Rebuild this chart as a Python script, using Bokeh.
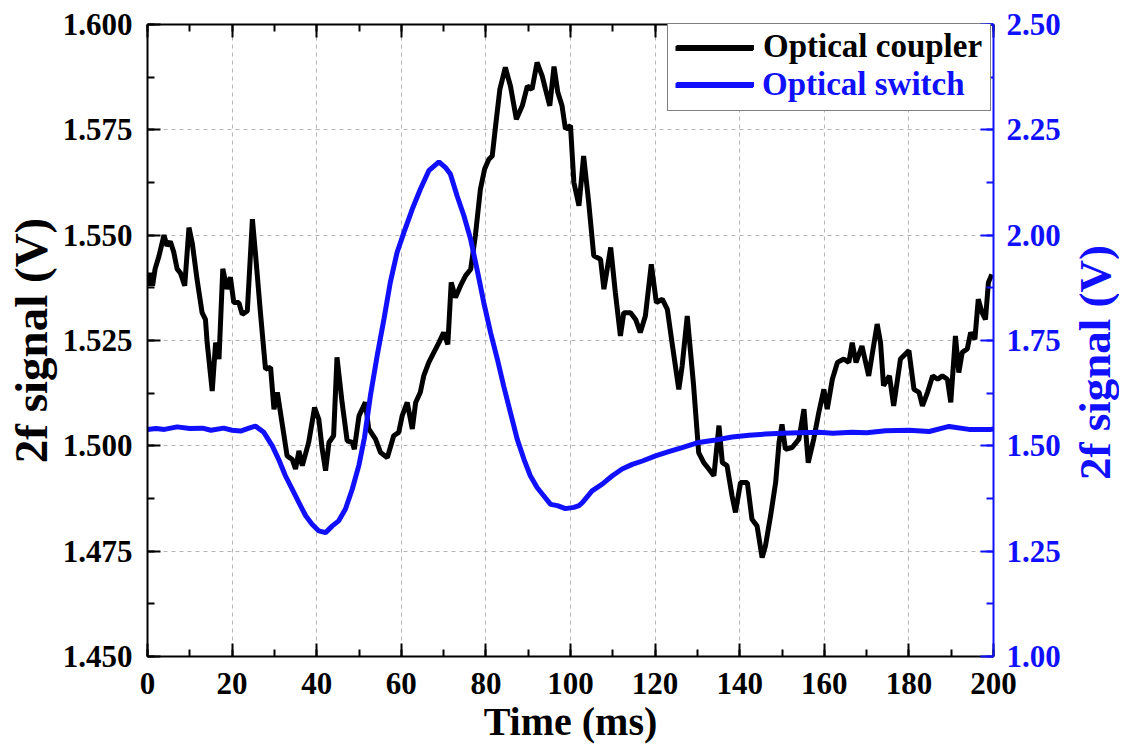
import math
from bokeh.plotting import figure
from bokeh.models import (Range1d, LinearAxis, SingleIntervalTicker, PrintfTickFormatter,
                          Legend, LegendItem, CustomLabelingPolicy, Label)
from bokeh.embed import file_html
from bokeh.resources import INLINE

# ---- data ----
coupler_t = [0.0, 0.6, 1.2, 1.8, 2.7, 3.9, 4.6, 5.4, 6.2, 7.0, 7.8, 8.8, 9.8, 10.6, 11.7, 12.9, 13.7,
             14.1, 15.3, 16.1, 16.9, 17.8, 18.8, 19.6, 20.4, 21.6, 22.4, 23.6, 24.8, 25.5, 26.7, 27.9,
             29.1, 29.9, 30.7, 31.8, 33.0, 34.2, 35.0, 35.8, 36.6, 38.1, 39.5, 40.5, 41.3, 42.1, 42.9,
             44.0, 44.8, 46.0, 47.2, 48.4, 48.9, 50.0, 51.5, 52.3, 53.9, 55.1, 56.7, 58.2, 59.4, 60.2,
             61.4, 62.6, 63.4, 64.5, 65.3, 66.5, 67.7, 68.9, 70.0, 71.0, 71.8, 72.8, 74.0, 75.2, 76.4,
             77.5, 78.7, 79.7, 80.7, 81.5, 82.3, 83.3, 84.6, 85.8, 87.2, 88.6, 89.8, 90.9, 92.1, 93.3,
             94.1, 95.1, 96.1, 97.0, 98.0, 98.8, 100.0, 100.8, 102.0, 103.1, 104.3, 105.5, 107.1, 107.9,
             109.5, 110.6, 111.8, 112.6, 114.2, 115.4, 116.5, 117.7, 119.1, 120.3, 121.7, 122.9, 124.0,
             125.6, 126.4, 127.6, 129.1, 130.3, 131.5, 132.7, 133.9, 135.1, 135.9, 137.0, 138.2, 139.0,
             140.2, 141.8, 142.9, 144.1, 145.3, 146.1, 147.3, 148.5, 149.3, 150.0, 150.8, 152.4, 154.0,
             155.2, 156.2, 157.5, 158.7, 159.9, 160.7, 161.9, 163.1, 164.6, 165.8, 166.6, 167.5, 168.9,
             170.5, 171.4, 172.5, 173.3, 174.0, 175.4, 176.4, 178.0, 180.0, 181.2, 182.4, 183.2, 184.4,
             185.6, 186.8, 187.9, 189.1, 189.9, 191.0, 191.8, 192.6, 193.8, 194.6, 195.6, 196.4, 197.3,
             198.1, 198.8, 199.6]
coupler_v = [1.5380, 1.5410, 1.5380, 1.5420, 1.5450, 1.5500, 1.5475, 1.5485, 1.5460, 1.5420, 1.5410,
             1.5380, 1.5518, 1.5480, 1.5396, 1.5316, 1.5300, 1.5245, 1.5130, 1.5245, 1.5206, 1.5420,
             1.5372, 1.5400, 1.5340, 1.5340, 1.5312, 1.5320, 1.5538, 1.5459, 1.5316, 1.5182, 1.5186,
             1.5087, 1.5127, 1.5055, 1.4976, 1.4968, 1.4945, 1.4988, 1.4953, 1.5008, 1.5091, 1.5063,
             1.4992, 1.4941, 1.5008, 1.5024, 1.5210, 1.5103, 1.5012, 1.5008, 1.4992, 1.5071, 1.5103,
             1.5040, 1.5016, 1.4984, 1.4972, 1.5024, 1.5032, 1.5071, 1.5103, 1.5040, 1.5103, 1.5127,
             1.5166, 1.5198, 1.5222, 1.5245, 1.5269, 1.5241, 1.5388, 1.5352, 1.5380, 1.5404, 1.5419,
             1.5498, 1.5609, 1.5657, 1.5680, 1.5688, 1.5760, 1.5846, 1.5898, 1.5854, 1.5775, 1.5807,
             1.5854, 1.5846, 1.5910, 1.5878, 1.5846, 1.5807, 1.5900, 1.5839, 1.5807, 1.5752, 1.5760,
             1.5625, 1.5570, 1.5688, 1.5578, 1.5451, 1.5443, 1.5372, 1.5471, 1.5364, 1.5261, 1.5316,
             1.5316, 1.5300, 1.5269, 1.5308, 1.5431, 1.5340, 1.5348, 1.5324, 1.5245, 1.5134, 1.5190,
             1.5308, 1.5143, 1.4984, 1.4960, 1.4945, 1.4929, 1.5048, 1.4960, 1.4953, 1.4881, 1.4842,
             1.4913, 1.4913, 1.4826, 1.4810, 1.4735, 1.4763, 1.4834, 1.4913, 1.5008, 1.5051, 1.4992,
             1.4996, 1.5016, 1.5087, 1.4960, 1.5016, 1.5079, 1.5134, 1.5087, 1.5158, 1.5198, 1.5206,
             1.5198, 1.5245, 1.5198, 1.5237, 1.5166, 1.5222, 1.5289, 1.5245, 1.5143, 1.5166, 1.5095,
             1.5206, 1.5226, 1.5134, 1.5127, 1.5095, 1.5127, 1.5166, 1.5158, 1.5166, 1.5158, 1.5103,
             1.5261, 1.5174, 1.5222, 1.5230, 1.5269, 1.5253, 1.5348, 1.5316, 1.5300, 1.5388, 1.5407]

switch_t = [0, 2, 4, 7, 10, 13, 15, 18, 20, 22, 24, 25.5, 27.5, 29.5, 31.0, 32.6, 34.2, 35.8, 37.4,
            38.9, 40.5, 42.1, 43.7, 45.2, 46.8, 48.4, 50.0, 51.3, 52.7, 54.3, 55.9, 57.4, 59.0, 60.6,
            62.6, 64.5, 66.5, 68.9, 70.4, 71.6, 73.2, 74.8, 76.4, 77.9, 79.5, 81.1, 82.7, 84.2, 85.8,
            87.4, 89.0, 90.5, 92.1, 93.7, 95.3, 96.9, 98.8, 100.8, 102.0, 102.8, 105.1, 107.5, 109.9,
            112.2, 114.6, 117.0, 120.1, 123.2, 126.4, 130.3, 134.3, 138.2, 142.2, 146.1, 150.0, 154.0,
            158.7, 162.0, 166.6, 170.0, 174.5, 180.0, 184.8, 189.5, 194.2, 199.4, 200.0]
switch_v = [1.539, 1.541, 1.539, 1.545, 1.541, 1.542, 1.537, 1.542, 1.537, 1.535, 1.542, 1.547, 1.532,
            1.500, 1.468, 1.429, 1.397, 1.365, 1.334, 1.314, 1.298, 1.294, 1.310, 1.322, 1.350, 1.397,
            1.455, 1.520, 1.619, 1.714, 1.801, 1.888, 1.959, 2.006, 2.062, 2.109, 2.153, 2.174, 2.161,
            2.145, 2.093, 2.046, 1.990, 1.919, 1.840, 1.769, 1.706, 1.642, 1.579, 1.516, 1.468, 1.429,
            1.401, 1.381, 1.361, 1.358, 1.351, 1.354, 1.358, 1.365, 1.393, 1.409, 1.429, 1.445, 1.456,
            1.464, 1.476, 1.486, 1.496, 1.508, 1.514, 1.521, 1.525, 1.528, 1.530, 1.531, 1.532, 1.530,
            1.532, 1.531, 1.536, 1.537, 1.534, 1.546, 1.539, 1.539, 1.540]

BLUE = "#1010ff"
FONT = "Liberation Serif"

p = figure(frame_width=846, frame_height=632, x_range=Range1d(0, 200), y_range=Range1d(1.45, 1.60),
           output_backend="svg", toolbar_location=None,
           min_border_left=147, min_border_right=126, min_border_top=22, min_border_bottom=88)
p.extra_y_ranges = {"sw": Range1d(1.0, 2.5)}
p.outline_line_color = None
p.background_fill_color = "white"

def style_axis(ax, color):
    ax.axis_line_color = color
    ax.axis_line_width = 2
    ax.major_tick_line_color = color
    ax.minor_tick_line_color = color
    ax.major_tick_line_width = 2
    ax.minor_tick_line_width = 2
    ax.major_tick_in = 13
    ax.major_tick_out = 0
    ax.minor_tick_in = 7
    ax.minor_tick_out = 0
    ax.major_label_text_font = FONT
    ax.major_label_text_font_style = "bold"
    ax.major_label_text_font_size = "31px"
    ax.major_label_text_color = color
    ax.axis_label_text_font = FONT
    ax.axis_label_text_font_style = "bold"
    ax.axis_label_text_color = color

xt = SingleIntervalTicker(interval=20, num_minor_ticks=2)
ylt = SingleIntervalTicker(interval=0.025, num_minor_ticks=2)
yrt = SingleIntervalTicker(interval=0.25, num_minor_ticks=2)

xa = p.xaxis[0]
xa.ticker = xt
style_axis(xa, "black")
xa.axis_label = "Time (ms)"
xa.axis_label_text_font_size = "40px"
xa.major_label_standoff = 16
xa.axis_label_standoff = 2

ya = p.yaxis[0]
ya.ticker = ylt
ya.formatter = PrintfTickFormatter(format="%.3f")
style_axis(ya, "black")
ya.axis_label = "2f signal (V)"
ya.axis_label_text_font_size = "47px"
ya.major_label_standoff = 15
ya.axis_label_standoff = 3

ra = LinearAxis(y_range_name="sw", ticker=yrt, formatter=PrintfTickFormatter(format="%.2f"))
style_axis(ra, BLUE)
ra.major_label_standoff = 13
p.add_layout(ra, "right")

# right-hand axis title, reading bottom-to-top like the left one
rlab = Label(x=31, y=294, x_units="screen", y_units="screen", text="2f signal (V)",
             angle=math.pi / 2, text_align="center", text_baseline="middle",
             text_font=FONT, text_font_style="bold", text_font_size="45px", text_color=BLUE)
p.add_layout(rlab, "right")

ta = LinearAxis(ticker=SingleIntervalTicker(interval=20, num_minor_ticks=2),
                major_label_policy=CustomLabelingPolicy(code="return;"))
style_axis(ta, "black")
ta.major_label_standoff = 0
p.add_layout(ta, "above")

for g in (p.xgrid[0], p.ygrid[0]):
    g.grid_line_color = "#b5b5b5"
    g.grid_line_dash = "4 4"
    g.grid_line_width = 1
p.xgrid[0].ticker = xt
p.ygrid[0].ticker = ylt

r1 = p.line(coupler_t, coupler_v, line_color="black", line_width=5)
r2 = p.line(switch_t, switch_v, line_color=BLUE, line_width=5, y_range_name="sw")

common = dict(label_text_font=FONT, label_text_font_style="bold", label_text_font_size="33px",
              glyph_width=78, glyph_height=36, label_standoff=9, label_height=36, spacing=0,
              margin=0, padding=8, location=(520, 545), border_line_width=1.5)

leg1 = Legend(items=[LegendItem(label="Optical coupler", renderers=[r1]),
                     LegendItem(label="\u00a0", renderers=[r2])],
              border_line_color="black",
              label_text_color="black", background_fill_color="white", background_fill_alpha=1.0,
              **common)
leg2 = Legend(items=[LegendItem(label="\u00a0", renderers=[r1]),
                     LegendItem(label="Optical switch", renderers=[r2])],
              border_line_color="white", border_line_alpha=0.0, background_fill_alpha=0.0,
              label_text_color=BLUE, **common)
p.add_layout(leg1, "center")
p.add_layout(leg2, "center")

open("out.html", "w").write(file_html(p, INLINE))
